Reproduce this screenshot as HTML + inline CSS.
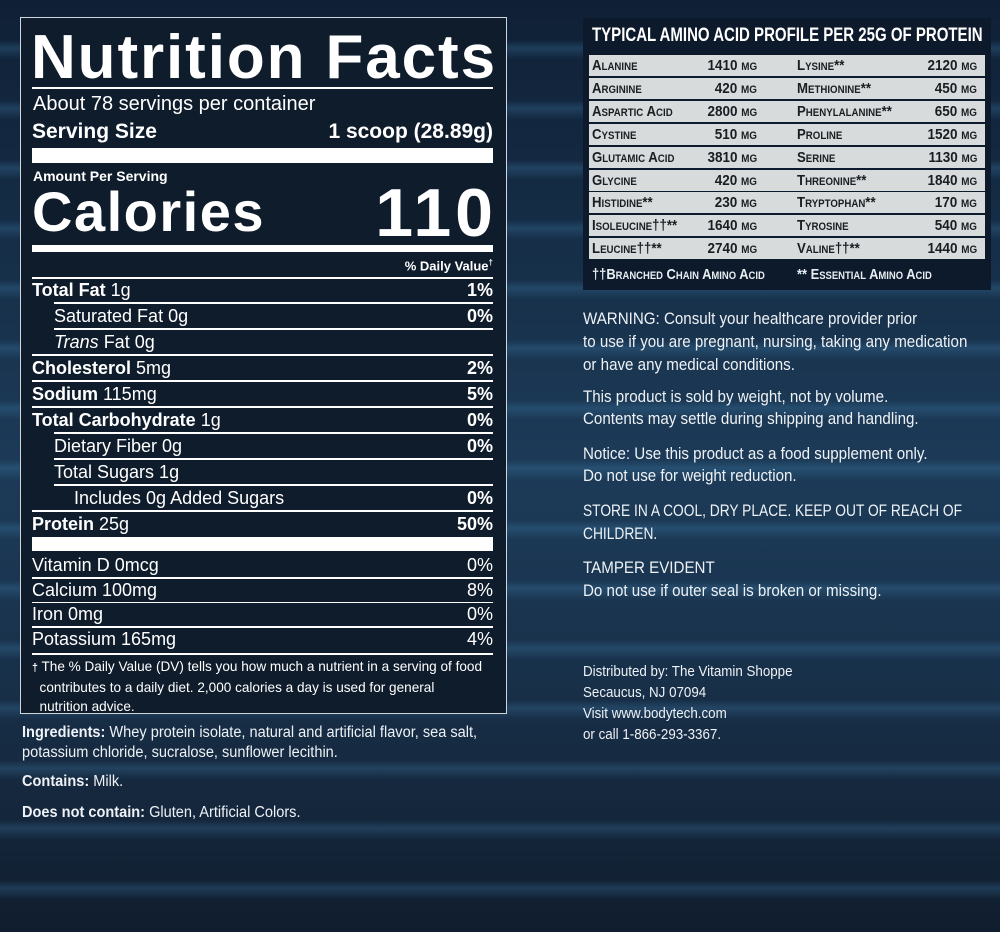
<!DOCTYPE html>
<html><head><meta charset="utf-8"><style>
*{margin:0;padding:0;box-sizing:border-box}
body{width:1000px;height:932px;overflow:hidden;position:relative;font-family:"Liberation Sans",sans-serif;color:#fff;
background:
repeating-linear-gradient(180deg,rgba(60,120,170,0) 0px,rgba(60,120,170,0.0) 40px,rgba(70,140,190,0.25) 48px,rgba(60,120,170,0) 60px),
linear-gradient(180deg,#0f2036 0%,#17304a 30%,#1c3b58 50%,#1a3550 65%,#15283e 85%,#101d2e 100%);}
.a{position:absolute;white-space:nowrap;line-height:1}
.label{position:absolute;left:20px;top:17px;width:487px;height:697px;background:#0f1c2c;border:1.5px solid #cfd6dc}
.hr{position:absolute;left:32px;width:461px;background:#fff}
.row{position:absolute;left:32px;width:461px;font-size:18px;line-height:1}
.row .r{position:absolute;right:0;top:0;font-weight:bold}
.row.n .r{font-weight:normal}
b{font-weight:bold}
.amino{position:absolute;left:583px;top:18px;width:408px;height:272px;background:#0d1a2b}
.ar{position:absolute;left:589px;width:396px;height:21px;background:#d8dbdc;color:#1a1d22;font-weight:bold;font-size:15px;font-variant:small-caps;line-height:21px}
.ar span{position:absolute}
.rt{position:absolute;left:583px;font-size:17px;color:#eef2f6;white-space:nowrap;line-height:1;transform:scaleX(0.89);transform-origin:left top}
.lt{position:absolute;left:22px;font-size:15.5px;color:#eef2f6;white-space:nowrap;line-height:1;transform:scaleX(0.94);transform-origin:left top}
</style></head><body>
<div class="label"></div>
<div class="a" style="left:31px;top:27px;font-size:62px;font-weight:bold;letter-spacing:1.9px">Nutrition Facts</div>
<div class="hr" style="top:87px;height:2px"></div>
<div class="a" style="left:33px;top:94px;font-size:20px">About 78 servings per container</div>
<div class="row" style="top:121px;font-size:21px;font-weight:bold">Serving Size<span class="r">1 scoop (28.89g)</span></div>
<div class="hr" style="top:148px;height:15px"></div>
<div class="a" style="left:33px;top:169px;font-size:14px;font-weight:bold">Amount Per Serving</div>
<div class="row" style="top:184px;font-size:56px;font-weight:bold;letter-spacing:1.5px">Calories<span class="r" style="font-size:68px;top:-5px;letter-spacing:4px;right:-4px">110</span></div>
<div class="hr" style="top:245px;height:7px"></div>
<div class="a" style="right:507px;top:259px;font-size:13px;font-weight:bold">% Daily Value<sup style="font-size:8px">†</sup></div>
<div class="hr" style="top:277px;height:1.5px"></div>
<div id="rows"></div>
<div class="hr" style="top:537px;height:14px"></div>
<div class="hr" style="top:653px;height:2px"></div>
<div class="a" style="left:32px;top:657px;font-size:14px;line-height:19px;transform:scaleX(0.97);transform-origin:left top"><b style="font-size:11px">†</b> The % Daily Value (DV) tells you how much a nutrient in a serving of food<br>&nbsp;&nbsp;contributes to a daily diet. 2,000 calories a day is used for general<br>&nbsp;&nbsp;nutrition advice.</div>

<div class="lt" style="top:723px;line-height:20px"><b>Ingredients:</b> Whey protein isolate, natural and artificial flavor, sea salt,<br>potassium chloride, sucralose, sunflower lecithin.</div>
<div class="lt" style="top:774px"><b>Contains:</b> Milk.</div>
<div class="lt" style="top:805px"><b>Does not contain:</b> Gluten, Artificial Colors.</div>

<div class="amino"></div>
<div class="a" style="left:592px;top:26px;font-weight:bold;font-size:19px;transform:scaleX(0.79);transform-origin:left">TYPICAL AMINO ACID PROFILE PER 25G OF PROTEIN</div>
<div id="amino"></div>
<div class="a" style="left:592px;top:267px;width:400px;font-weight:bold;font-size:15px;font-variant:small-caps;color:#e8edf2"><span style="display:inline-block;transform:scaleX(0.86);transform-origin:left">††Branched Chain Amino Acid</span><span style="position:absolute;left:205px;top:0;transform:scaleX(0.86);transform-origin:left">** Essential Amino Acid</span></div>

<div class="rt" style="top:307px;line-height:23px">WARNING: Consult your healthcare provider prior<br>to use if you are pregnant, nursing, taking any medication<br>or have any medical conditions.</div>
<div class="rt" style="top:386px;line-height:22px">This product is sold by weight, not by volume.<br>Contents may settle during shipping and handling.</div>
<div class="rt" style="top:443px;line-height:22px">Notice: Use this product as a food supplement only.<br>Do not use for weight reduction.</div>
<div class="rt" style="top:499px;line-height:23px;transform:scaleX(0.81)">STORE IN A COOL, DRY PLACE. KEEP OUT OF REACH OF<br>CHILDREN.</div>
<div class="rt" style="top:556px;line-height:23px">TAMPER EVIDENT<br>Do not use if outer seal is broken or missing.</div>
<div class="rt" style="top:661px;line-height:21px;font-size:15px">Distributed by: The Vitamin Shoppe<br>Secaucus, NJ 07094<br>Visit www.bodytech.com<br>or call 1-866-293-3367.</div>

<script>
const nutrients=[["<b>Total Fat</b> 1g","1%",0],["Saturated Fat 0g","0%",22],["<i>Trans</i> Fat 0g","",22],["<b>Cholesterol</b> 5mg","2%",0],["<b>Sodium</b> 115mg","5%",0],["<b>Total Carbohydrate</b> 1g","0%",0],["Dietary Fiber 0g","0%",22],["Total Sugars 1g","",22],["Includes 0g Added Sugars","0%",42],["<b>Protein</b> 25g","50%",0]];
const vitamins=[["Vitamin D 0mcg","0%"],["Calcium 100mg","8%"],["Iron 0mg","0%"],["Potassium 165mg","4%"]];
const aminoLeft=[["Alanine","1410 mg"],["Arginine","420 mg"],["Aspartic Acid","2800 mg"],["Cystine","510 mg"],["Glutamic Acid","3810 mg"],["Glycine","420 mg"],["Histidine**","230 mg"],["Isoleucine††**","1640 mg"],["Leucine††**","2740 mg"]];
const aminoRight=[["Lysine**","2120 mg"],["Methionine**","450 mg"],["Phenylalanine**","650 mg"],["Proline","1520 mg"],["Serine","1130 mg"],["Threonine**","1840 mg"],["Tryptophan**","170 mg"],["Tyrosine","540 mg"],["Valine††**","1440 mg"]];
const R=document.getElementById('rows');
nutrients.forEach((n,i)=>{
 const y=281+i*26;
 const d=document.createElement('div');d.className='row';
 
 
 d.style.top=y+'px';
 d.innerHTML='<span style="position:absolute;left:'+n[2]+'px">'+n[0]+'</span><span class="r">'+n[1]+'</span>';
 R.appendChild(d);
 if(i<nutrients.length-1){const h=document.createElement('div');h.className='hr';h.style.top=(y+21)+'px';h.style.height='1.5px';if(nutrients[i+1][2]){h.style.left='54px';h.style.width='439px';}R.appendChild(h);}
});
vitamins.forEach((v,i)=>{
 const y=556+i*24.7;
 const d=document.createElement('div');d.className='row n';
 
 
 d.style.top=y+'px';
 d.innerHTML=v[0]+'<span class="r">'+v[1]+'</span>';
 R.appendChild(d);
 if(i<3){const h=document.createElement('div');h.className='hr';h.style.top=(y+21)+'px';h.style.height='1.5px';R.appendChild(h);}
});
const A=document.getElementById('amino');
for(let i=0;i<aminoLeft.length;i++){
 const d=document.createElement('div');d.className='ar';
 
 
 d.style.top=(55+i*22.9)+'px';
 d.innerHTML='<span style="left:3px;transform:scaleX(0.88);transform-origin:left">'+aminoLeft[i][0]+'</span><span style="right:228px;transform:scaleX(0.9);transform-origin:right">'+aminoLeft[i][1]+'</span><span style="left:208px;transform:scaleX(0.88);transform-origin:left">'+aminoRight[i][0]+'</span><span style="right:8px;transform:scaleX(0.9);transform-origin:right">'+aminoRight[i][1]+'</span>';
 A.appendChild(d);
}
</script>
</body></html>
